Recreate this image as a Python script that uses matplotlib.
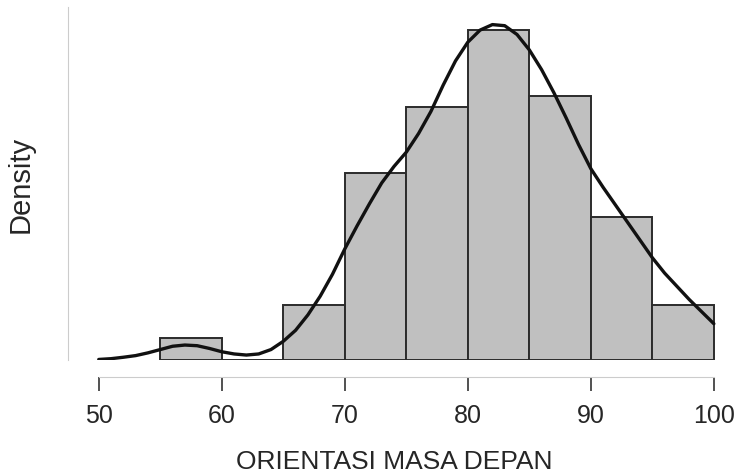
import numpy as np
import matplotlib
matplotlib.use("Agg")
import matplotlib.pyplot as plt

# Histogram of ORIENTASI MASA DEPAN (counts per 5-point bin)
bin_edges = [55, 60, 65, 70, 75, 80, 85, 90, 95, 100]
bin_counts = [2, 0, 5, 17, 23, 30, 24, 13, 5]

# Density curve (same count scale as the bars)
curve_x = [50, 51, 52, 53, 54, 55, 56, 57, 58, 59, 60, 61, 62, 63, 64, 65, 66, 67,
           68, 69, 70, 71, 72, 73, 74, 75, 76, 77, 78, 79, 80, 81, 82, 83, 84, 85,
           86, 87, 88, 89, 90, 91, 92, 93, 94, 95, 96, 97, 98, 99, 100]
curve_counts = [0.05, 0.12, 0.25, 0.4, 0.65, 0.95, 1.25, 1.36, 1.3, 1.05, 0.75, 0.55,
                0.45, 0.55, 0.95, 1.7, 2.7, 4.1, 5.8, 7.8, 10.1, 12.2, 14.2, 16.1,
                17.6, 18.9, 20.6, 22.6, 25.0, 27.2, 28.9, 30.0, 30.5, 30.4, 29.6,
                28.2, 26.4, 24.3, 22.0, 19.6, 17.4, 15.7, 14.1, 12.5, 10.9, 9.3, 7.9,
                6.7, 5.5, 4.4, 3.3]

x_ticks = [50, 60, 70, 80, 90, 100]

n_total = sum(bin_counts)
bw = 5
density = np.array(bin_counts) / (n_total * bw)
curve_density = np.array(curve_counts) / (n_total * bw)

plt.rcParams['font.family'] = ['Liberation Sans', 'DejaVu Sans']

fig = plt.figure(figsize=(7.41, 4.77), dpi=100)
ax = fig.add_axes([68 / 741, 1 - 361 / 477, (720 - 68) / 741, (361 - 8) / 477])

ax.bar(bin_edges[:-1], density, width=bw, align='edge',
       color='#c0c0c0', edgecolor='#2b2b2b', linewidth=1.4, zorder=2)
ax.plot(curve_x, curve_density, color='#111111', linewidth=2.4, zorder=3,
        solid_joinstyle='round', solid_capstyle='round')

ax.set_xlim(47.5, 100.5)
ax.set_ylim(0, 32.1 / (n_total * bw))

# Spines: light grey, bottom one pushed out below the bars
for side in ['top', 'right']:
    ax.spines[side].set_visible(False)
ax.spines['left'].set_color('#cccccc')
ax.spines['bottom'].set_color('#cccccc')
ax.spines['bottom'].set_position(('outward', 12))
ax.spines['bottom'].set_bounds(50, 100)

ax.set_xticks(x_ticks)
ax.set_xticklabels([str(t) for t in x_ticks])
ax.set_yticks([])
ax.tick_params(axis='x', direction='out', length=10, width=1.2, color='#333333',
               labelsize=18, labelcolor='#262626', pad=9)

ax.set_xlabel('ORIENTASI MASA DEPAN', fontsize=19, color='#262626', labelpad=16)
ax.set_ylabel('Density', fontsize=21, color='#262626', labelpad=24)

fig.savefig('out.png', dpi=100)
